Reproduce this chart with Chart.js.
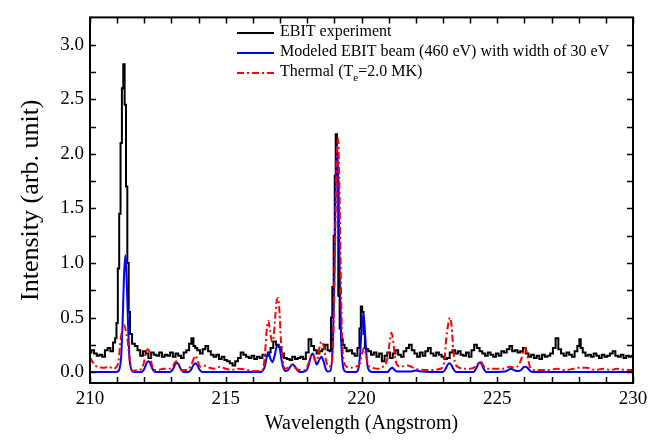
<!DOCTYPE html>
<html lang="en">
<head>
  <meta charset="UTF-8">
  <title>EBIT spectrum</title>
  <script src="https://cdn.jsdelivr.net/npm/chart.js"></script>
  <style>
    body {
      margin: 0;
      background: #fff;
    }
  </style>
</head>
<body>
  <canvas id="chart" width="662" height="440"></canvas>

  <script>
    // EBIT experiment (stepped histogram)
    const ebitWave = [210.0, 210.1, 210.2, 210.3, 210.4, 210.5, 210.6, 210.7, 210.8, 210.9, 210.95,
      211.0, 211.05, 211.1, 211.15, 211.2, 211.25, 211.3, 211.35, 211.4, 211.45, 211.5, 211.6, 211.7, 211.8, 211.9,
      212.0, 212.1, 212.2, 212.3, 212.4, 212.5, 212.6, 212.7, 212.8, 212.9,
      213.0, 213.1, 213.2, 213.3, 213.4, 213.5, 213.6, 213.7, 213.77, 213.85, 213.9,
      214.0, 214.1, 214.2, 214.3, 214.4, 214.5, 214.6, 214.7, 214.8, 214.9,
      215.0, 215.1, 215.2, 215.3, 215.4, 215.5, 215.6, 215.7, 215.8, 215.9,
      216.0, 216.1, 216.2, 216.3, 216.4, 216.5, 216.6, 216.7, 216.8, 216.9,
      217.0, 217.1, 217.2, 217.3, 217.4, 217.5, 217.6, 217.7, 217.8, 217.9,
      218.0, 218.1, 218.2, 218.3, 218.4, 218.5, 218.6, 218.7, 218.8, 218.85, 218.9, 218.95,
      219.0, 219.03, 219.07, 219.12, 219.17, 219.22, 219.27, 219.35, 219.4, 219.5, 219.6, 219.7, 219.8, 219.9, 219.95,
      220.0, 220.05, 220.1, 220.15, 220.2, 220.3, 220.4, 220.5, 220.6, 220.7, 220.8, 220.9,
      221.0, 221.1, 221.2, 221.3, 221.4, 221.5, 221.6, 221.7, 221.8, 221.9,
      222.0, 222.1, 222.2, 222.3, 222.4, 222.5, 222.6, 222.7, 222.8, 222.9,
      223.0, 223.1, 223.2, 223.3, 223.4, 223.5, 223.6, 223.7, 223.8, 223.9,
      224.0, 224.1, 224.2, 224.3, 224.4, 224.5, 224.6, 224.7, 224.8, 224.9,
      225.0, 225.1, 225.2, 225.3, 225.4, 225.5, 225.6, 225.7, 225.8, 225.9,
      226.0, 226.1, 226.2, 226.3, 226.4, 226.5, 226.6, 226.7, 226.8, 226.9,
      227.0, 227.1, 227.2, 227.3, 227.4, 227.5, 227.6, 227.7, 227.8, 227.9,
      228.0, 228.05, 228.1, 228.2, 228.3, 228.4, 228.5, 228.6, 228.7, 228.8, 228.9,
      229.0, 229.1, 229.2, 229.3, 229.4, 229.5, 229.6, 229.7, 229.8, 229.9, 230.0];
    const ebitInt = [0.18, 0.2, 0.17, 0.15, 0.16, 0.14, 0.2, 0.22, 0.19, 0.27, 0.31,
      0.45, 0.95, 1.45, 2.1, 2.6, 2.82, 2.45, 1.7, 1.0, 0.55, 0.35, 0.26, 0.24, 0.2, 0.15,
      0.19, 0.17, 0.13, 0.18, 0.16, 0.15, 0.18, 0.14, 0.16, 0.15,
      0.18, 0.14, 0.17, 0.15, 0.13, 0.18, 0.2, 0.26, 0.31, 0.24, 0.22,
      0.2, 0.17, 0.21, 0.24, 0.19, 0.16, 0.14, 0.16, 0.12, 0.14,
      0.11, 0.1, 0.08, 0.06, 0.1, 0.13, 0.18, 0.16, 0.14, 0.13,
      0.15, 0.12, 0.14, 0.13, 0.16, 0.15, 0.18, 0.22, 0.28, 0.25,
      0.23, 0.17, 0.13, 0.12, 0.11, 0.14, 0.12, 0.13, 0.14, 0.12,
      0.18, 0.3, 0.24, 0.2, 0.17, 0.19, 0.21, 0.25, 0.2, 0.19, 0.5, 0.78,
      1.25, 1.8, 2.18, 1.75, 0.7, 0.4, 0.3, 0.25, 0.22, 0.19, 0.2, 0.17, 0.15, 0.22, 0.4,
      0.6, 0.55, 0.35, 0.22, 0.21, 0.19, 0.16, 0.18, 0.14, 0.17, 0.1, 0.15,
      0.18, 0.13, 0.17, 0.2, 0.16, 0.14, 0.19, 0.22, 0.25, 0.2,
      0.17, 0.14, 0.18, 0.15, 0.19, 0.22, 0.17, 0.15, 0.18, 0.16,
      0.14, 0.12, 0.13, 0.18, 0.2, 0.17, 0.19, 0.16, 0.15, 0.18,
      0.14, 0.2, 0.25, 0.22, 0.19, 0.17, 0.15, 0.18, 0.16, 0.14,
      0.17, 0.15, 0.19, 0.18, 0.21, 0.24, 0.19, 0.2, 0.18, 0.19,
      0.22, 0.17, 0.14, 0.16, 0.13, 0.15, 0.12, 0.16, 0.14, 0.15,
      0.17, 0.22, 0.31, 0.21, 0.17, 0.15, 0.18, 0.16, 0.14, 0.19,
      0.24, 0.3, 0.22, 0.18, 0.15, 0.16, 0.14, 0.17, 0.15, 0.13, 0.16,
      0.14, 0.15, 0.17, 0.19, 0.15, 0.14, 0.16, 0.13, 0.15, 0.14, 0.15];

    // modeled EBIT beam (460 eV), blue
    const beamWave = [210.0, 210.95, 211.05, 211.15, 211.2, 211.25, 211.3, 211.35, 211.4, 211.45, 211.55, 211.65,
      211.9, 212.0, 212.05, 212.1, 212.15, 212.2, 212.25, 212.3, 212.4,
      212.95, 213.05, 213.1, 213.15, 213.2, 213.25, 213.3, 213.35, 213.45,
      213.63, 213.73, 213.78, 213.83, 213.88, 213.93, 213.98, 214.03, 214.13,
      216.3, 216.35, 216.45, 216.5, 216.57, 216.65, 216.72, 216.8, 216.87, 216.93, 217.0, 217.05, 217.12, 217.2,
      217.3, 217.38, 217.47, 217.55, 217.65, 217.75,
      217.95, 218.05, 218.12, 218.2, 218.28, 218.35, 218.42, 218.52, 218.6, 218.68, 218.75,
      218.85, 218.95, 219.0, 219.05, 219.1, 219.15, 219.2, 219.25, 219.35, 219.45,
      219.8, 219.9, 219.95, 220.0, 220.07, 220.12, 220.17, 220.22, 220.3, 220.4,
      220.95, 221.05, 221.13, 221.2, 221.3, 221.8, 222.0, 222.2,
      223.0, 223.1, 223.17, 223.24, 223.31, 223.38, 223.48,
      224.12, 224.22, 224.29, 224.36, 224.43, 224.5, 224.6,
      225.3, 225.5, 225.65, 225.8, 225.9, 225.97, 226.04, 226.11, 226.2, 226.3, 230.0];
    const beamInt = [0, 0, 0.01, 0.15, 0.45, 0.86, 1.07, 0.86, 0.45, 0.15, 0.01, 0,
      0, 0.03, 0.06, 0.09, 0.1, 0.09, 0.06, 0.03, 0,
      0, 0.025, 0.05, 0.075, 0.085, 0.075, 0.05, 0.025, 0,
      0, 0.025, 0.05, 0.07, 0.08, 0.07, 0.05, 0.025, 0,
      0, 0.01, 0.06, 0.13, 0.18, 0.12, 0.09, 0.15, 0.23, 0.245, 0.2, 0.12, 0.04, 0.01,
      0.02, 0.05, 0.07, 0.05, 0.015, 0,
      0.01, 0.06, 0.13, 0.17, 0.12, 0.07, 0.1, 0.14, 0.1, 0.03, 0.005,
      0.01, 0.3, 0.88, 1.7, 2.1, 1.7, 0.88, 0.3, 0.02, 0,
      0, 0.05, 0.17, 0.38, 0.53, 0.4, 0.2, 0.06, 0.01, 0,
      0, 0.025, 0.04, 0.025, 0.005, 0.005, 0.015, 0.005,
      0, 0.03, 0.065, 0.08, 0.065, 0.03, 0,
      0, 0.03, 0.07, 0.09, 0.07, 0.03, 0,
      0.005, 0.03, 0.015, 0.01, 0.025, 0.045, 0.05, 0.04, 0.015, 0, 0];

    // thermal model (Te = 2.0 MK), red dash-dot
    const thermWave = [210.0, 210.1, 210.18, 210.3, 210.5, 210.7, 210.85, 210.95,
      211.05, 211.13, 211.2, 211.26, 211.32, 211.39, 211.47, 211.57, 211.75, 211.9, 211.98,
      212.05, 212.12, 212.18, 212.25, 212.35, 212.5, 212.7, 212.9,
      213.05, 213.13, 213.2, 213.28, 213.38, 213.55, 213.7, 213.8, 213.88, 213.95,
      214.05, 214.2, 214.4, 214.6, 214.8, 215.0, 215.2, 215.5, 215.8, 216.0, 216.3,
      216.4, 216.47, 216.52, 216.57, 216.63, 216.7, 216.75, 216.82, 216.88, 216.93, 216.98,
      217.03, 217.1, 217.2, 217.35, 217.45, 217.55, 217.7, 217.9,
      218.05, 218.15, 218.22, 218.3, 218.38, 218.47, 218.55, 218.62, 218.7, 218.78, 218.9, 218.97,
      219.03, 219.08, 219.13, 219.18, 219.23, 219.28, 219.35, 219.45, 219.6, 219.75, 219.9, 219.98,
      220.05, 220.1, 220.17, 220.25, 220.4, 220.6, 220.8, 220.95,
      221.03, 221.1, 221.16, 221.22, 221.3, 221.45, 221.7, 222.0, 222.3, 222.6, 222.9,
      223.05, 223.12, 223.2, 223.26, 223.32, 223.38, 223.45, 223.6, 223.8,
      224.0, 224.2, 224.3, 224.38, 224.46, 224.6, 224.9, 225.2, 225.45, 225.65, 225.8, 225.9, 225.97,
      226.03, 226.1, 226.2, 226.35, 226.6, 226.9, 227.2, 227.5, 227.8,
      228.0, 228.3, 228.6, 228.9, 229.2, 229.4, 229.7, 230.0];
    const thermInt = [0.135, 0.09, 0.06, 0.05, 0.04, 0.05, 0.03, 0.04,
      0.1, 0.3, 0.4, 0.43, 0.38, 0.28, 0.09, 0.01, 0.02, 0.03, 0.08,
      0.17, 0.21, 0.19, 0.1, 0.02, 0.02, 0.03, 0.03,
      0.05, 0.09, 0.1, 0.07, 0.02, 0.02, 0.05, 0.11, 0.15, 0.12,
      0.05, 0.06, 0.04, 0.03, 0.05, 0.03, 0.02, 0.03, 0.02, 0.01, 0.01,
      0.06, 0.25, 0.42, 0.47, 0.38, 0.28, 0.3, 0.5, 0.66, 0.68, 0.55,
      0.3, 0.1, 0.03, 0.05, 0.07, 0.04, 0.02, 0.02,
      0.08, 0.15, 0.16, 0.1, 0.12, 0.25, 0.28, 0.22, 0.1, 0.05, 0.08, 0.4,
      1.2, 1.9, 2.15, 1.8, 1.0, 0.35, 0.1, 0.05, 0.04, 0.05, 0.06, 0.12,
      0.2, 0.22, 0.15, 0.06, 0.04, 0.03, 0.05, 0.12,
      0.26, 0.36, 0.3, 0.17, 0.07, 0.05, 0.06, 0.03, 0.02, 0.02, 0.03,
      0.1, 0.3, 0.45, 0.5, 0.42, 0.2, 0.08, 0.04, 0.03,
      0.03, 0.05, 0.08, 0.1, 0.07, 0.03, 0.03, 0.03, 0.05, 0.04, 0.07, 0.13, 0.2,
      0.22, 0.16, 0.05, 0.02, 0.02, 0.02, 0.03, 0.02, 0.03,
      0.04, 0.04, 0.02, 0.03, 0.02, 0.03, 0.02, 0.02];

    const seriesLabels = ["EBIT experiment", "Modeled EBIT beam (460 eV) with width of 30 eV", "Thermal (T_e=2.0 MK)"];

    const toPoints = (xs, ys) => xs.map((x, i) => ({ x: x, y: ys[i] }));

    Chart.defaults.font.family = "'Liberation Serif', 'Times New Roman', serif";
    Chart.defaults.color = "#000";

    // frame with inward ticks on all four sides
    const frameTicks = {
      id: "frameTicks",
      afterDraw(chart) {
        const { ctx, chartArea: a, scales: { x, y } } = chart;
        const len = 6;
        ctx.save();
        ctx.strokeStyle = "#000";
        ctx.lineWidth = 1.5;
        ctx.setLineDash([]);
        ctx.beginPath();
        x.ticks.forEach(t => {
          const px = Math.round(x.getPixelForValue(t.value)) + 0.5;
          ctx.moveTo(px, a.bottom); ctx.lineTo(px, a.bottom - len);
          ctx.moveTo(px, a.top); ctx.lineTo(px, a.top + len);
        });
        y.ticks.forEach(t => {
          if (t.value < 0 || t.value > 3.01) return;
          const py = Math.round(y.getPixelForValue(t.value)) + 0.5;
          ctx.moveTo(a.left, py); ctx.lineTo(a.left + len, py);
          ctx.moveTo(a.right, py); ctx.lineTo(a.right - len, py);
        });
        ctx.stroke();
        ctx.lineWidth = 2;
        ctx.strokeRect(a.left, a.top, a.right - a.left, a.bottom - a.top);
        ctx.restore();
      }
    };

    // legend drawn by hand so the subscript in T_e can be shown
    const legendBox = {
      id: "legendBox",
      afterDraw(chart) {
        const ctx = chart.ctx;
        ctx.save();
        chart.data.datasets.forEach((ds, i) => {
          const ly = 33 + i * 20;
          ctx.strokeStyle = ds.borderColor;
          ctx.lineWidth = ds.borderWidth;
          ctx.setLineDash(ds.borderDash || []);
          ctx.beginPath();
          ctx.moveTo(237, ly); ctx.lineTo(274, ly);
          ctx.stroke();

          ctx.setLineDash([]);
          ctx.fillStyle = "#000";
          ctx.textBaseline = "alphabetic";
          let tx = 280;
          ds.label.split(/_(\w)/).forEach((part, k) => {
            const sub = k % 2 === 1;
            ctx.font = (sub ? "11px" : "16px") + " 'Liberation Serif', serif";
            ctx.fillText(part, tx, ly + (sub ? 8 : 3));
            tx += ctx.measureText(part).width;
          });
        });
        ctx.restore();
      }
    };

    new Chart(document.getElementById("chart"), {
      type: "line",
      data: {
        datasets: [
          {
            label: seriesLabels[0],
            data: toPoints(ebitWave, ebitInt),
            borderColor: "#000000",
            borderWidth: 2,
            stepped: "middle",
            order: 3
          },
          {
            label: seriesLabels[1],
            data: toPoints(beamWave, beamInt),
            borderColor: "#0000ff",
            borderWidth: 2,
            cubicInterpolationMode: "monotone",
            order: 2
          },
          {
            label: seriesLabels[2],
            data: toPoints(thermWave, thermInt),
            borderColor: "#ff0000",
            borderWidth: 2,
            borderDash: [7, 3, 2, 3],
            cubicInterpolationMode: "monotone",
            order: 1
          }
        ]
      },
      options: {
        responsive: false,
        animation: false,
        events: [],
        elements: { point: { radius: 0 } },
        layout: { padding: { top: 5, right: 29, left: 0, bottom: 0 } },
        plugins: {
          legend: { display: false },
          tooltip: { enabled: false }
        },
        scales: {
          x: {
            type: "linear",
            min: 210,
            max: 230,
            grid: { display: false, drawTicks: false },
            border: { display: false },
            ticks: {
              stepSize: 1,
              autoSkip: false,
              maxRotation: 0,
              padding: 5,
              font: { size: 19 },
              callback: v => (v % 5 === 0 ? String(v) : "")
            },
            title: {
              display: true,
              text: "Wavelength (Angstrom)",
              font: { size: 20 },
              padding: { top: 0, bottom: 4 }
            },
            afterFit: s => { s.height = 57; }
          },
          y: {
            min: -0.1,
            max: 3.25,
            grid: { display: false, drawTicks: false },
            border: { display: false },
            ticks: {
              stepSize: 0.25,
              includeBounds: false,
              padding: 6,
              font: { size: 19 },
              callback: v => (Math.abs(v * 2 - Math.round(v * 2)) < 1e-6 && v >= 0 ? v.toFixed(1) : "")
            },
            title: {
              display: true,
              text: "Intensity (arb. unit)",
              font: { size: 26 },
              padding: { top: 16, bottom: 0 }
            },
            afterFit: s => { s.width = 90; }
          }
        }
      },
      plugins: [frameTicks, legendBox]
    });
  </script>
</body>
</html>
